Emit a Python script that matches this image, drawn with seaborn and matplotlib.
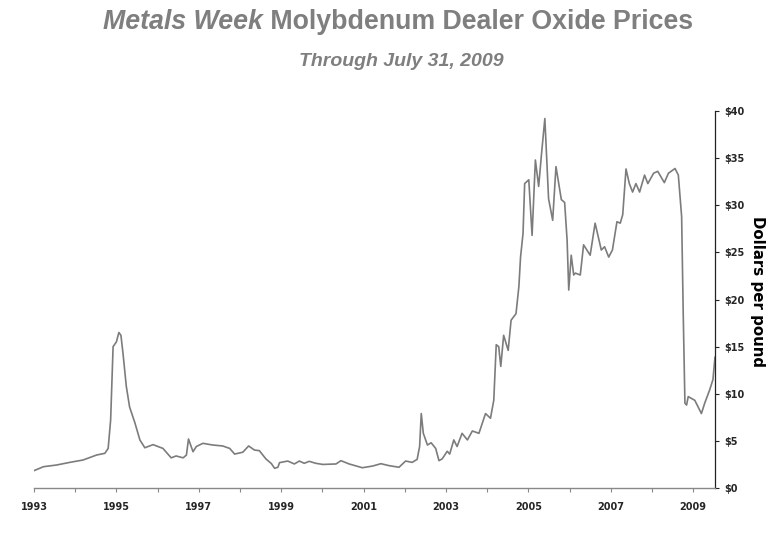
import pandas as pd
import matplotlib
matplotlib.use("Agg")
import matplotlib.pyplot as plt
import seaborn as sns

# Moly dealer oxide price (decimal year, $/lb)
years = [1993.00, 1993.23, 1993.55, 1993.87, 1994.19, 1994.52, 1994.72, 1994.80, 1994.86, 1994.92,
         1995.00, 1995.06, 1995.11, 1995.16, 1995.24, 1995.32, 1995.45, 1995.57, 1995.69, 1995.89,
         1996.13, 1996.33, 1996.45, 1996.62, 1996.70, 1996.75, 1996.86, 1996.94, 1997.10, 1997.34,
         1997.58, 1997.75, 1997.87, 1998.07, 1998.21, 1998.35, 1998.47, 1998.63, 1998.76, 1998.84,
         1998.92, 1998.96, 1999.16, 1999.32, 1999.44, 1999.56, 1999.68, 1999.84, 2000.01, 2000.33,
         2000.45, 2000.65, 2000.97, 2001.22, 2001.42, 2001.62, 2001.86, 2002.02, 2002.18, 2002.30,
         2002.36, 2002.40, 2002.45, 2002.55, 2002.64, 2002.75, 2002.83, 2002.91, 2003.03, 2003.09,
         2003.19, 2003.27, 2003.39, 2003.52, 2003.64, 2003.80, 2003.96, 2004.08, 2004.16, 2004.22,
         2004.28, 2004.33, 2004.40, 2004.51, 2004.58, 2004.70, 2004.77, 2004.81, 2004.87, 2004.91,
         2005.01, 2005.09, 2005.17, 2005.25, 2005.32, 2005.40, 2005.49, 2005.59, 2005.67, 2005.80,
         2005.88, 2005.94, 2005.98, 2006.04, 2006.10, 2006.14, 2006.26, 2006.34, 2006.50, 2006.62,
         2006.77, 2006.85, 2006.95, 2007.04, 2007.15, 2007.23, 2007.29, 2007.37, 2007.45, 2007.53,
         2007.61, 2007.70, 2007.82, 2007.90, 2008.04, 2008.14, 2008.30, 2008.40, 2008.56, 2008.64,
         2008.72, 2008.76, 2008.80, 2008.84, 2008.88, 2009.04, 2009.20, 2009.28, 2009.40, 2009.48,
         2009.53]
prices = [1.84, 2.26, 2.44, 2.72, 2.97, 3.5, 3.68, 4.2, 7.2, 15.0,
          15.5, 16.5, 16.2, 14.3, 10.8, 8.6, 6.9, 5.1, 4.27, 4.6,
          4.2, 3.2, 3.4, 3.2, 3.5, 5.2, 3.85, 4.4, 4.74, 4.56,
          4.46, 4.2, 3.6, 3.8, 4.46, 4.03, 3.96, 3.08, 2.6, 2.09,
          2.2, 2.69, 2.86, 2.55, 2.86, 2.62, 2.83, 2.62, 2.5, 2.55,
          2.9, 2.55, 2.15, 2.33, 2.58, 2.37, 2.2, 2.86, 2.72, 3.04,
          4.4, 7.9, 5.8, 4.56, 4.8, 4.2, 2.9, 3.1, 3.9, 3.6,
          5.1, 4.4, 5.8, 5.1, 6.05, 5.8, 7.9, 7.4, 9.3, 15.2,
          15.0, 12.9, 16.2, 14.6, 17.8, 18.5, 21.4, 24.5, 27.0, 32.3,
          32.7, 26.8, 34.8, 32.0, 35.5, 39.2, 30.7, 28.4, 34.1, 30.6,
          30.3, 26.3, 21.0, 24.7, 22.6, 22.8, 22.6, 25.8, 24.7, 28.1,
          25.25, 25.6, 24.5, 25.25, 28.25, 28.1, 29.0, 33.85, 32.3, 31.4,
          32.3, 31.4, 33.2, 32.3, 33.4, 33.6, 32.4, 33.4, 33.9, 33.2,
          28.8, 18.2, 9.0, 8.8, 9.7, 9.3, 7.9, 9.0, 10.4, 11.5,
          13.9]

year_ticks = list(range(1993, 2010))
year_labels = [str(y) if y % 2 == 1 else "" for y in year_ticks]
price_ticks = [0, 5, 10, 15, 20, 25, 30, 35, 40]
price_labels = ["$" + str(p) for p in price_ticks]

df = pd.DataFrame({"Year": years, "Price": prices})

sns.set_style("white")
plt.rcParams["font.family"] = ["DejaVu Sans"]

fig = plt.figure(figsize=(7.78, 5.33), dpi=100)
ax = fig.add_axes([34 / 778, 1 - 488 / 533, (715 - 34) / 778, (488 - 111) / 533])

sns.lineplot(data=df, x="Year", y="Price", ax=ax, color="#7c7c7c", linewidth=1.2, estimator=None)

ax.set_xlim(1993, 2009.53)
ax.set_ylim(0, 40)

ax.set_xticks(year_ticks)
ax.set_xticklabels(year_labels, fontsize=7, fontweight="bold")
ax.tick_params(axis="x", direction="out", length=3, width=0.8, color="#888888", pad=7, bottom=True)

ax.yaxis.tick_right()
ax.set_yticks(price_ticks)
ax.set_yticklabels(price_labels, fontsize=7, fontweight="bold")
ax.tick_params(axis="y", direction="out", length=3, width=0.8, color="#222222", pad=4, right=True)

ax.set_xlabel("")
ax.set_ylabel("")

for side in ["top", "left"]:
    ax.spines[side].set_visible(False)
ax.spines["bottom"].set_color("#888888")
ax.spines["bottom"].set_linewidth(1.0)
ax.spines["right"].set_color("#222222")
ax.spines["right"].set_linewidth(0.9)
ax.grid(False)

# y axis title, reads top to bottom
fig.text(757 / 778, 1 - 291 / 533, "Dollars per pound", fontsize=10.8, fontweight="bold",
         rotation=270, ha="center", va="center", color="black")

# title: italic part + plain part, centred together
title_gray = "#7f7f7f"
t1 = fig.text(0, 1 - 29 / 533, "Metals Week", fontsize=19.3, fontweight="bold", style="italic",
              color=title_gray, family="Liberation Sans", va="baseline", ha="left")
t2 = fig.text(0, 1 - 29 / 533, " Molybdenum Dealer Oxide Prices", fontsize=19.3, fontweight="bold",
              color=title_gray, family="Liberation Sans", va="baseline", ha="left")
fig.canvas.draw()
r = fig.canvas.get_renderer()
w1 = t1.get_window_extent(r).width / 778
w2 = t2.get_window_extent(r).width / 778
x0 = 398 / 778 - (w1 + w2) / 2
t1.set_x(x0)
t2.set_x(x0 + w1)

fig.text(401 / 778, 1 - 66 / 533, "Through July 31, 2009", fontsize=14, fontweight="bold", style="italic",
         color=title_gray, family="Liberation Sans", va="baseline", ha="center")

plt.savefig("out.png", dpi=100)
